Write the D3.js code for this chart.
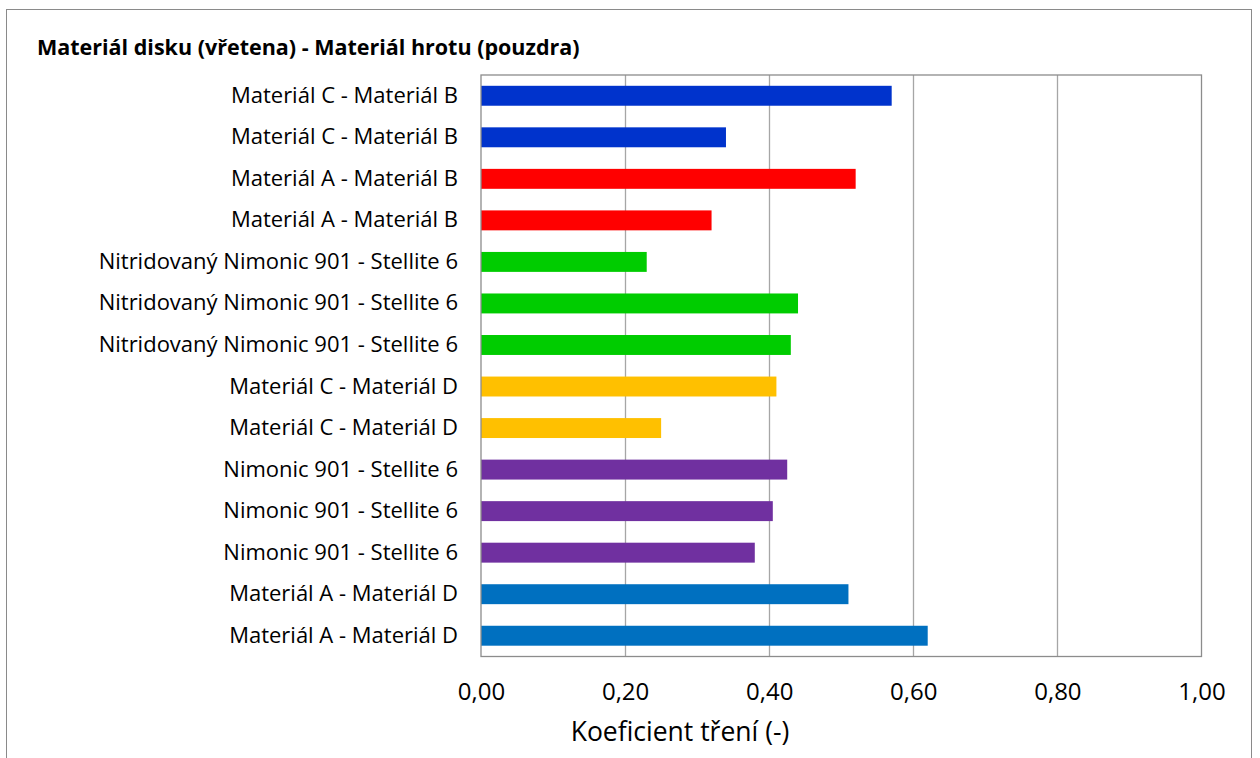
<!DOCTYPE html>
<html>
<head>
<meta charset="utf-8">
<script src="https://cdn.jsdelivr.net/npm/d3@7"></script>
<style>
  html, body { margin: 0; padding: 0; background: #fff; }
  svg { display: block; }
  text { font-family: "Open Sans", "Noto Sans", sans-serif; fill: #000; }
</style>
</head>
<body>
<svg id="chart" width="1260" height="758"></svg>
<script>
// Pairings, listed top to bottom
const categories = [
  "Materiál C - Materiál B",
  "Materiál C - Materiál B",
  "Materiál A - Materiál B",
  "Materiál A - Materiál B",
  "Nitridovaný Nimonic 901 - Stellite 6",
  "Nitridovaný Nimonic 901 - Stellite 6",
  "Nitridovaný Nimonic 901 - Stellite 6",
  "Materiál C - Materiál D",
  "Materiál C - Materiál D",
  "Nimonic 901 - Stellite 6",
  "Nimonic 901 - Stellite 6",
  "Nimonic 901 - Stellite 6",
  "Materiál A - Materiál D",
  "Materiál A - Materiál D"
];
// Friction coefficient per pairing
const values = [0.57, 0.34, 0.52, 0.32, 0.23, 0.44, 0.43, 0.41, 0.25, 0.425, 0.405, 0.38, 0.51, 0.62];
// Fill per pairing group
const barColors = [
  "#0033CC", "#0033CC",
  "#FF0000", "#FF0000",
  "#00CC00", "#00CC00", "#00CC00",
  "#FFC000", "#FFC000",
  "#7030A0", "#7030A0", "#7030A0",
  "#0070C0", "#0070C0"
];
const xTicks = [0, 0.2, 0.4, 0.6, 0.8, 1.0];
const title = "Materiál disku (vřetena) - Materiál hrotu (pouzdra)";
const xTitle = "Koeficient tření (-)";

const svg = d3.select("#chart");

// outer chart frame
svg.append("rect")
  .attr("x", 6.5).attr("y", 9.5)
  .attr("width", 1245).attr("height", 760)
  .attr("fill", "#fff").attr("stroke", "#8a8a8a").attr("stroke-width", 1);

const plot = { left: 481, right: 1201.5, top: 75, bottom: 656.5 };

const x = d3.scaleLinear().domain([0, 1]).range([plot.left, plot.right]);
const y = d3.scaleBand()
  .domain(d3.range(categories.length))
  .range([plot.top, plot.bottom])
  .paddingInner(0.52)
  .paddingOuter(0.26);

// vertical gridlines
svg.append("g")
  .selectAll("line")
  .data(xTicks.slice(1, -1))
  .join("line")
  .attr("x1", d => Math.round(x(d)) + 0.5)
  .attr("x2", d => Math.round(x(d)) + 0.5)
  .attr("y1", plot.top)
  .attr("y2", plot.bottom)
  .attr("stroke", "#a6a6a6")
  .attr("stroke-width", 1.3);

// bars
svg.append("g")
  .selectAll("rect")
  .data(values)
  .join("rect")
  .attr("x", x(0))
  .attr("y", (d, i) => y(i))
  .attr("width", d => x(d) - x(0))
  .attr("height", y.bandwidth())
  .attr("fill", (d, i) => barColors[i]);

// plot area border
svg.append("rect")
  .attr("x", plot.left).attr("y", plot.top)
  .attr("width", plot.right - plot.left)
  .attr("height", plot.bottom - plot.top)
  .attr("fill", "none")
  .attr("stroke", "#8c8c8c")
  .attr("stroke-width", 1.3);

// category axis labels
const yAxis = d3.axisLeft(y)
  .tickSize(0)
  .tickPadding(23)
  .tickFormat(i => categories[i]);
const gy = svg.append("g").attr("transform", `translate(${plot.left},0)`).call(yAxis);
gy.select(".domain").remove();
gy.selectAll("text")
  .attr("font-size", 22)
  .attr("font-family", "'Open Sans', 'Noto Sans', sans-serif");

// value axis labels
const xAxis = d3.axisBottom(x)
  .tickValues(xTicks)
  .tickSize(0)
  .tickPadding(26)
  .tickFormat(d => d3.format(".2f")(d).replace(".", ","));
const gx = svg.append("g").attr("transform", `translate(0,${plot.bottom})`).call(xAxis);
gx.select(".domain").remove();
gx.selectAll("text")
  .attr("font-size", 24)
  .attr("font-family", "'Open Sans', 'Noto Sans', sans-serif");

// axis title
svg.append("text")
  .attr("x", 680).attr("y", 741)
  .attr("text-anchor", "middle")
  .attr("font-size", 26.5)
  .text(xTitle);

// chart title
svg.append("text")
  .attr("x", 37).attr("y", 55)
  .attr("font-size", 21.5)
  .attr("font-weight", "bold")
  .text(title);
</script>
</body>
</html>
